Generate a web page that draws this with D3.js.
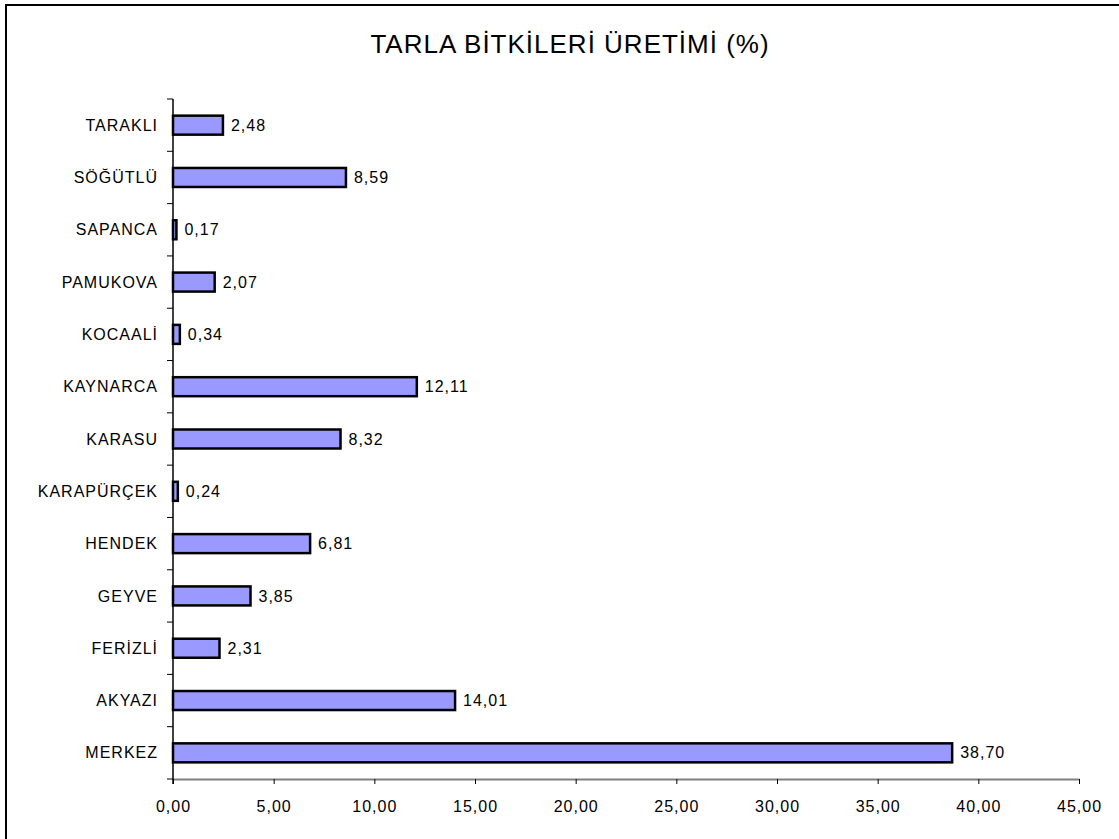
<!DOCTYPE html>
<html>
<head>
<meta charset="utf-8">
<script src="https://cdn.jsdelivr.net/npm/d3@7"></script>
<style>
  body { margin: 0; background: #fff; }
  text { font-family: "Liberation Sans", Arial, sans-serif; fill: #000; }
</style>
</head>
<body>
<div id="chart"></div>
<script>
// categories from top to bottom
var categories = ["TARAKLI", "SÖĞÜTLÜ", "SAPANCA", "PAMUKOVA", "KOCAALİ", "KAYNARCA",
  "KARASU", "KARAPÜRÇEK", "HENDEK", "GEYVE", "FERİZLİ", "AKYAZI", "MERKEZ"];
var values = [2.48, 8.59, 0.17, 2.07, 0.34, 12.11, 8.32, 0.24, 6.81, 3.85, 2.31, 14.01, 38.70];
var xTicks = [0, 5, 10, 15, 20, 25, 30, 35, 40, 45];
var title = "TARLA BİTKİLERİ ÜRETİMİ (%)";

var width = 1119, height = 839;
var mLeft = 173, mRight = 1079, mTop = 99, mBottom = 779;

var fmt = function(v) { return d3.format(".2f")(v).replace(".", ","); };

var svg = d3.select("#chart").append("svg")
    .attr("width", width)
    .attr("height", height);

// frame (only left and top visible)
svg.append("rect")
    .attr("x", 6).attr("y", 5)
    .attr("width", width + 20).attr("height", height + 20)
    .attr("fill", "none")
    .attr("stroke", "#000")
    .attr("stroke-width", 2);

svg.append("text")
    .attr("x", 570).attr("y", 53)
    .attr("text-anchor", "middle")
    .style("font-size", "26px")
    .style("letter-spacing", "1px")
    .text(title);

var x = d3.scaleLinear().domain([0, 45]).range([mLeft, mRight]);
var yb = d3.scaleBand().domain(categories).range([mTop, mBottom]);

var labelStyle = function(sel) {
  sel.style("font-size", "16px")
     .style("letter-spacing", "1px")
     .style("font-family", "'Liberation Sans', Arial, sans-serif");
};

// x axis
var xAxis = svg.append("g")
    .attr("transform", "translate(0," + mBottom + ")")
    .call(d3.axisBottom(x).tickValues(xTicks).tickSize(5).tickSizeOuter(0).tickFormat(fmt));
xAxis.select(".domain").attr("stroke", "#808080").attr("stroke-width", 2);
xAxis.selectAll(".tick line").attr("stroke", "#000");
xAxis.selectAll(".tick text")
    .attr("y", 22)
    .attr("fill", "#000")
    .call(labelStyle);

// y axis line and boundary ticks
svg.append("line")
    .attr("x1", mLeft).attr("x2", mLeft)
    .attr("y1", mTop).attr("y2", mBottom + 5)
    .attr("stroke", "#000").attr("stroke-width", 1.5);

var bounds = categories.map(function(c) { return yb(c); }).concat([mBottom]);
svg.selectAll(".ytick")
    .data(bounds)
    .enter().append("line")
    .attr("class", "ytick")
    .attr("x1", mLeft - 6).attr("x2", mLeft)
    .attr("y1", function(d) { return d; })
    .attr("y2", function(d) { return d; })
    .attr("stroke", "#000");

svg.selectAll(".ylabel")
    .data(categories)
    .enter().append("text")
    .attr("class", "ylabel")
    .attr("x", mLeft - 15)
    .attr("y", function(d) { return yb(d) + yb.bandwidth() / 2; })
    .attr("dy", "0.35em")
    .attr("text-anchor", "end")
    .call(labelStyle)
    .text(function(d) { return d; });

// bars
svg.selectAll(".bar")
    .data(categories)
    .enter().append("rect")
    .attr("class", "bar")
    .attr("x", x(0))
    .attr("y", function(d) { return yb(d) + yb.bandwidth() / 2 - 9.5; })
    .attr("width", function(d, i) { return x(values[i]) - x(0); })
    .attr("height", 19)
    .attr("fill", "#9999ff")
    .attr("stroke", "#000")
    .attr("stroke-width", 2.5);

svg.selectAll(".vlabel")
    .data(categories)
    .enter().append("text")
    .attr("class", "vlabel")
    .attr("x", function(d, i) { return x(values[i]) + 8; })
    .attr("y", function(d) { return yb(d) + yb.bandwidth() / 2; })
    .attr("dy", "0.35em")
    .call(labelStyle)
    .text(function(d, i) { return fmt(values[i]); });
</script>
</body>
</html>
